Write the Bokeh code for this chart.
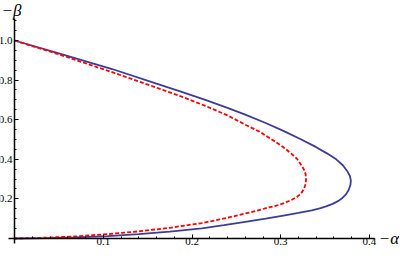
from bokeh.plotting import figure
from bokeh.models import Range1d, FixedTicker, Label
from bokeh.embed import file_html
from bokeh.resources import INLINE

# ---- data (alpha = -α, beta = -β) ----
alpha_blue = [0.0, 0.05, 0.110, 0.160, 0.1875, 0.215, 0.240, 0.260, 0.283, 0.303, 0.322,
              0.340, 0.352, 0.3625, 0.370, 0.375, 0.378, 0.379, 0.3785, 0.3765, 0.3735,
              0.3695, 0.365, 0.3585, 0.351, 0.345, 0.335, 0.320, 0.303, 0.283, 0.260,
              0.236, 0.211, 0.175, 0.140, 0.105, 0.070, 0.035, 0.0]
beta_blue = [1.0, 0.935, 0.856, 0.782, 0.742, 0.700, 0.660, 0.626, 0.5835, 0.5435, 0.5027,
             0.4613, 0.430, 0.400, 0.370, 0.340, 0.315, 0.292, 0.270, 0.245, 0.223,
             0.205, 0.190, 0.175, 0.162, 0.1535, 0.1425, 0.129, 0.116, 0.100, 0.084,
             0.067, 0.051, 0.035, 0.022, 0.012, 0.006, 0.002, 0.0]

alpha_red = [0.0, 0.05, 0.110, 0.160, 0.1875, 0.215, 0.240, 0.260, 0.276, 0.290, 0.303,
             0.3115, 0.318, 0.3225, 0.326, 0.328, 0.3285, 0.328, 0.3265, 0.3245, 0.322,
             0.318, 0.313, 0.308, 0.303, 0.295, 0.285, 0.268, 0.250, 0.231, 0.211,
             0.175, 0.140, 0.105, 0.070, 0.035, 0.0]
beta_red = [1.0, 0.930, 0.840, 0.762, 0.718, 0.670, 0.622, 0.575, 0.540, 0.500, 0.461,
            0.430, 0.404, 0.375, 0.350, 0.325, 0.297, 0.275, 0.255, 0.238, 0.223,
            0.210, 0.197, 0.187, 0.177, 0.166, 0.155, 0.135, 0.115, 0.096, 0.078,
            0.054, 0.036, 0.022, 0.011, 0.004, 0.0]

x_major_ticks = [0.1, 0.2, 0.3, 0.4]
x_minor_ticks = [0.02, 0.04, 0.06, 0.08, 0.12, 0.14, 0.16, 0.18, 0.22, 0.24, 0.26, 0.28,
                 0.32, 0.34, 0.36, 0.38]
x_tick_labels = ["0.1", "0.2", "0.3", "0.4"]
y_major_ticks = [0.2, 0.4, 0.6, 0.8, 1.0]
y_minor_ticks = [0.05, 0.1, 0.15, 0.25, 0.3, 0.35, 0.45, 0.5, 0.55, 0.65, 0.7, 0.75,
                 0.85, 0.9, 0.95, 1.05, 1.1]
y_tick_labels = ["0.2", "0.4", "0.6", "0.8", "1.0"]

x_axis_title = "\u2212\u03b1"
y_axis_title = "\u2212\u03b2"

FONT = "Times"

p = figure(width=399, height=251, output_backend="svg", toolbar_location=None,
           x_range=Range1d(-0.015775, 0.433803), y_range=Range1d(-0.065657, 1.20202),
           min_border=0, tools="")
p.outline_line_color = None
p.grid.visible = False
p.background_fill_color = "white"

for ax in (p.xaxis, p.yaxis):
    ax.fixed_location = 0
    ax.axis_line_color = "black"
    ax.axis_line_width = 1.5
    ax.major_tick_line_color = "black"
    ax.minor_tick_line_color = "black"
    ax.major_tick_line_width = 1
    ax.minor_tick_line_width = 1
    ax.major_tick_in = 4
    ax.major_tick_out = 0
    ax.minor_tick_in = 2
    ax.minor_tick_out = 0
    ax.major_label_text_font = FONT
    ax.major_label_text_font_size = "11px"
    ax.major_label_text_color = "black"

p.xaxis.ticker = FixedTicker(ticks=x_major_ticks, minor_ticks=x_minor_ticks)
p.yaxis.ticker = FixedTicker(ticks=y_major_ticks, minor_ticks=y_minor_ticks)
p.xaxis.major_label_overrides = dict(zip(x_major_ticks, x_tick_labels))
p.yaxis.major_label_overrides = dict(zip(y_major_ticks, y_tick_labels))
p.xaxis.bounds = (-0.007, 0.406)
p.yaxis.bounds = (-0.025, 1.113)
p.xaxis.major_label_standoff = 0
p.yaxis.major_label_standoff = 2

p.line(alpha_blue, beta_blue, line_color="#3d3d99", line_width=1.8)
p.line(alpha_red, beta_red, line_color="#ff0000", line_width=1.8, line_dash="4 2")

p.add_layout(Label(x=0.406, y=0, text=x_axis_title, x_offset=4, text_baseline="middle",
                   text_align="left", text_font=FONT, text_font_style="italic",
                   text_font_size="17px", text_color="black"))
p.add_layout(Label(x=0, y=1.20202, text=y_axis_title, x_offset=-13, text_baseline="top",
                   text_align="left", text_font=FONT, text_font_style="italic",
                   text_font_size="17px", text_color="black"))

open("out.html", "w").write(file_html(p, INLINE))
